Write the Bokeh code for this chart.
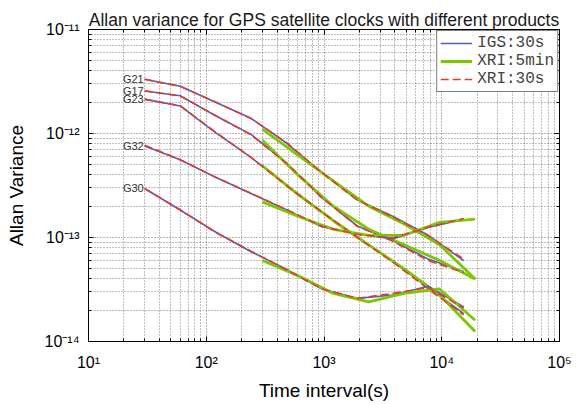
from bokeh.plotting import figure
from bokeh.models import LogAxis, FixedTicker, Legend, LegendItem
from bokeh.embed import file_html
from bokeh.resources import INLINE
from bokeh.core.properties import value

# ---------------- data ----------------
tau_30s = [30, 60, 120, 240, 480, 960, 1920, 3840, 7680, 15360]
tau_5min = [300, 600, 1200, 2400, 4800, 9600, 19200]
satellites = ["G21", "G17", "G23", "G32", "G30"]

igs_G21 = [3.33e-12, 2.85e-12, 2.0e-12, 1.4e-12, 8.1e-13, 4.2e-13, 2.3e-13, 1.6e-13, 1.05e-13, 6.0e-14]
igs_G17 = [2.56e-12, 2.31e-12, 1.48e-12, 9.8e-13, 5.2e-13, 2.4e-13, 1.29e-13, 9.3e-14, 6.2e-14, 4.7e-14]
igs_G23 = [2.14e-12, 1.84e-12, 1.02e-12, 5.9e-13, 3.2e-13, 1.75e-13, 1.0e-13, 5.9e-14, 3.3e-14, 1.85e-14]
igs_G32 = [7.6e-13, 5.6e-13, 3.8e-13, 2.65e-13, 1.85e-13, 1.27e-13, 1.08e-13, 9.7e-14, 1.25e-13, 1.5e-13]
igs_G30 = [2.96e-13, 1.84e-13, 1.13e-13, 7.3e-14, 4.95e-14, 3.2e-14, 2.6e-14, 2.8e-14, 3.4e-14, 2.15e-14]

xri30_G21 = [3.32e-12, 2.84e-12, 2.01e-12, 1.39e-12, 8.2e-13, 4.2e-13, 2.28e-13, 1.58e-13, 1.04e-13, 6.2e-14]
xri30_G17 = [2.57e-12, 2.30e-12, 1.49e-12, 9.7e-13, 5.2e-13, 2.42e-13, 1.28e-13, 9.2e-14, 6.0e-14, 4.6e-14]
xri30_G23 = [2.13e-12, 1.85e-12, 1.03e-12, 5.9e-13, 3.15e-13, 1.76e-13, 1.0e-13, 5.8e-14, 3.2e-14, 1.8e-14]
xri30_G32 = [7.7e-13, 5.6e-13, 3.8e-13, 2.66e-13, 1.86e-13, 1.28e-13, 1.07e-13, 9.9e-14, 1.26e-13, 1.52e-13]
xri30_G30 = [2.95e-13, 1.85e-13, 1.12e-13, 7.4e-14, 4.9e-14, 3.2e-14, 2.6e-14, 2.9e-14, 3.3e-14, 2.1e-14]

xri5_G21 = [1.1e-12, 6.2e-13, 3.5e-13, 2.0e-13, 1.35e-13, 8.5e-14, 4.0e-14]
xri5_G17 = [8.6e-13, 4.0e-13, 2.0e-13, 1.2e-13, 8.5e-14, 6.0e-14, 4.0e-14]
xri5_G23 = [4.9e-13, 2.6e-13, 1.45e-13, 8.5e-14, 5.0e-14, 2.8e-14, 1.25e-14]
xri5_G32 = [2.2e-13, 1.6e-13, 1.2e-13, 1.05e-13, 1.05e-13, 1.4e-13, 1.5e-13]
xri5_G30 = [6.0e-14, 4.3e-14, 2.9e-14, 2.4e-14, 2.9e-14, 3.2e-14, 1.6e-14]

igs = [igs_G21, igs_G17, igs_G23, igs_G32, igs_G30]
xri30 = [xri30_G21, xri30_G17, xri30_G23, xri30_G32, xri30_G30]
xri5 = [xri5_G21, xri5_G17, xri5_G23, xri5_G32, xri5_G30]

x_major = [10, 100, 1000, 10000, 100000]
x_labels = ["10\u00b9", "10\u00b2", "10\u00b3", "10\u2074", "10\u2075"]
y_major = [1e-14, 1e-13, 1e-12, 1e-11]
y_labels = ["10\u207b\u00b9\u2074", "10\u207b\u00b9\u00b3", "10\u207b\u00b9\u00b2", "10\u207b\u00b9\u00b9"]

title_text = "Allan variance for GPS satellite clocks with different products"

# ---------------- style ----------------
BLUE = "#4d5fbf"
GREEN = "#7cc800"
RED = "#e8392a"
FONT = "Liberation Sans"

x_minor = [m * d for d in x_major[:-1] for m in range(2, 10)]
y_minor = [m * d for d in y_major[:-1] for m in range(2, 10)]

p = figure(width=572, height=403, x_axis_type="log", y_axis_type="log",
           x_range=(10, 1e5), y_range=(1e-14, 1e-11),
           output_backend="svg", toolbar_location=None,
           min_border_left=88, min_border_right=13, min_border_top=29, min_border_bottom=60)

p.title.text = title_text
p.title.text_font = FONT
p.title.text_font_size = "17.5px"
p.title.text_font_style = "normal"
p.title.text_color = "#1a1a1a"
p.title.align = "center"
p.title.standoff = 0
p.title.offset = 0

p.outline_line_color = "black"
p.outline_line_width = 1
p.background_fill_color = "white"
p.border_fill_color = "white"

xt = FixedTicker(ticks=x_major, minor_ticks=x_minor)
yt = FixedTicker(ticks=y_major, minor_ticks=y_minor)

for ax in p.xaxis:
    ax.ticker = xt
    ax.major_label_overrides = {float(k): v for k, v in zip(x_major, x_labels)}
    ax.axis_label = "Time interval(s)"
for ax in p.yaxis:
    ax.ticker = yt
    ax.major_label_overrides = {float(k): v for k, v in zip(y_major, y_labels)}
    ax.axis_label = "Allan Variance"

for ax in list(p.xaxis) + list(p.yaxis):
    ax.major_tick_in = 5
    ax.major_tick_out = 0
    ax.minor_tick_in = 3
    ax.minor_tick_out = 0
    ax.axis_line_color = "black"
    ax.major_tick_line_color = "black"
    ax.minor_tick_line_color = "black"
    ax.major_label_text_font = FONT
    ax.major_label_text_font_size = "16px"
    ax.major_label_text_color = "black"
    ax.axis_label_text_font = FONT
    ax.axis_label_text_font_size = "19px"
    ax.axis_label_text_font_style = "normal"
    ax.axis_label_text_color = "black"

p.xaxis.major_label_standoff = 12
p.xaxis.axis_label_standoff = 6
p.yaxis.major_label_standoff = 9
p.yaxis.axis_label_standoff = 15

# mirrored ticks on top and right (labels invisible)
top = LogAxis(ticker=xt, major_tick_in=5, major_tick_out=0, minor_tick_in=3, minor_tick_out=0,
              major_label_text_font_size="1px", major_label_text_alpha=0, major_label_standoff=0,
              axis_line_color="black")
right = LogAxis(ticker=yt, major_tick_in=5, major_tick_out=0, minor_tick_in=3, minor_tick_out=0,
                major_label_text_font_size="1px", major_label_text_alpha=0, major_label_standoff=0,
                axis_line_color="black")
p.add_layout(top, "above")
p.add_layout(right, "right")

for g in (p.xgrid + p.ygrid):
    g.grid_line_color = "#2a2a2a"
    g.grid_line_alpha = 0.7
    g.grid_line_dash = "1 2"
    g.minor_grid_line_color = "#2a2a2a"
    g.minor_grid_line_alpha = 0.6
    g.minor_grid_line_dash = "1 2"

# ---------------- curves ----------------
blue_r = green_r = red_r = None
for i, sat in enumerate(satellites):
    b = p.line(tau_30s, igs[i], line_color=BLUE, line_width=1.6)
    g = p.line(tau_5min, xri5[i], line_color=GREEN, line_width=2.8)
    r = p.line(tau_30s, xri30[i], line_color=RED, line_width=1.6, line_dash="8 4")
    if i == 0:
        blue_r, green_r, red_r = b, g, r
    p.text(x=[tau_30s[0]], y=[igs[i][0]], text=[sat], text_align="right", text_baseline="middle",
           x_offset=-1, text_font=value(FONT), text_font_size="11px", text_color="#333333")

legend = Legend(items=[LegendItem(label="IGS:30s", renderers=[blue_r]),
                       LegendItem(label="XRI:5min", renderers=[green_r]),
                       LegendItem(label="XRI:30s", renderers=[red_r])],
                location="top_right", margin=1, padding=3, spacing=-3,
                glyph_width=32, glyph_height=14, label_height=14, label_standoff=5,
                label_text_font="Liberation Mono", label_text_font_size="16px",
                border_line_color="black", border_line_width=1, background_fill_alpha=1.0)
p.add_layout(legend)

open("out.html", "w").write(file_html(p, INLINE))
